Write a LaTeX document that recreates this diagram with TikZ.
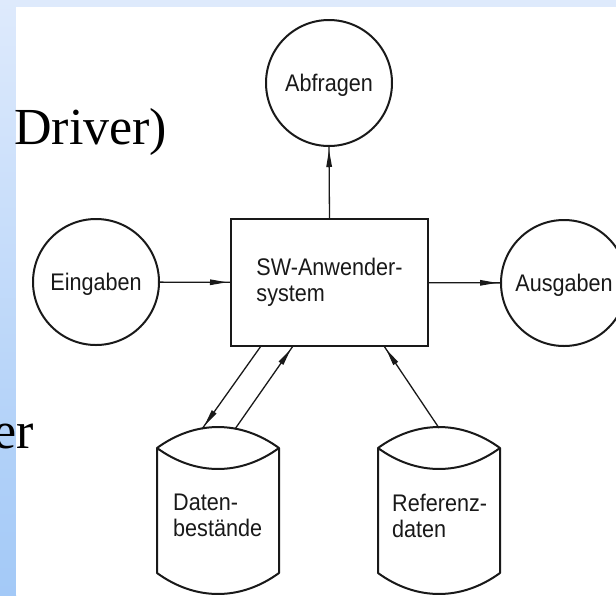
\documentclass[tikz,border=0pt]{standalone}
\usepackage{fontspec}
\setmainfont{Liberation Serif}
\newfontfamily\diagfont{Liberation Sans}[FakeStretch=0.9]
\usetikzlibrary{arrows.meta,decorations.markings,calc}
\definecolor{band}{RGB}{222,234,252}
\definecolor{stripbot}{RGB}{163,201,247}
\definecolor{ink}{RGB}{25,25,25}
\tikzset{
  diagtext/.style={font=\diagfont\fontsize{24}{26}\selectfont, text=ink},
  circ/.style={circle, draw=ink, line width=2pt, minimum size=126pt, inner sep=0pt, outer sep=0pt, diagtext, text depth=0pt},
  sysbox/.style={rectangle, draw=ink, line width=2.4pt, minimum width=197pt, minimum height=127pt, inner sep=0pt, outer sep=0pt, align=left, diagtext},
  drumbox/.style={rectangle, minimum width=122pt, minimum height=165pt, inner sep=0pt, outer sep=0pt},
  drumline/.style={draw=ink, line width=2pt, line join=round},
  drumtext/.style={diagtext, align=left, inner sep=0pt, anchor=north west},
  conn/.style={draw=ink, line width=1.3pt},
  tipend/.style={postaction={decorate}, decoration={markings, mark=at position -4pt with {\arrow{Stealth[length=17pt,width=5.5pt,inset=0pt]}}}},
  slidetext/.style={font=\fontsize{52}{60}\selectfont, text=black, inner sep=0pt}
}
\begin{document}
\begin{tikzpicture}[x=1pt,y=-1pt]
\useasboundingbox (0,0) rectangle (616,595);
\clip (0,0) rectangle (616,595);
% slide background
\fill[band] (0,0) rectangle (616,7);
\shade[top color=band, bottom color=stripbot] (0,0) rectangle (16,595);
\fill[white] (16,7) rectangle (616,595);
% slide text fragments
\node[slidetext, anchor=base west] (drv) at (14,144) {Driver)};
\node[slidetext, anchor=base east] (er) at (34,448) {er};
% nodes
\node[circ] (abf) at (329,83) {Abfragen};
\node[circ] (ein) at (96,282) {Eingaben};
\node[circ] (aus) at (564,283) {Ausgaben};
\node[sysbox] (sys) at (329.5,282.5) {SW-Anwender-\\system};
% drums
\node[drumbox] (dat) at (218,510.5) {};
\draw[drumline] ($(dat.north west)+(0,20)$) coordinate (dat-a) to[bend left=36] ($(dat.north east)+(0,20)$) coordinate (dat-b) to[bend left=36] (dat-a) -- ($(dat.south west)+(0,-20)$) to[bend right=36] ($(dat.south east)+(0,-20)$) -- (dat-b);
\node[drumtext] (dat-t) at ($(dat.north west)+(16,66)$) {Daten-\\bestände};
\node[drumbox] (ref) at (439,510.5) {};
\draw[drumline] ($(ref.north west)+(0,20)$) coordinate (ref-a) to[bend left=36] ($(ref.north east)+(0,20)$) coordinate (ref-b) to[bend left=36] (ref-a) -- ($(ref.south west)+(0,-20)$) to[bend right=36] ($(ref.south east)+(0,-20)$) -- (ref-b);
\node[drumtext] (ref-t) at ($(ref.north west)+(14,66)$) {Referenz-\\daten};
% connection points
\coordinate (s1) at ($(sys.south west)+(30,0)$);
\coordinate (s2) at ($(sys.south west)+(62,0)$);
\coordinate (s3) at ($(sys.south west)+(153,0)$);
\coordinate (d1) at ($(dat.north)+(-16,1)$);
\coordinate (d2) at ($(dat.north)+(17,1)$);
\coordinate (r1) at ($(ref.north)+(0,0)$);
% connectors
\draw[conn, tipend] (sys.north) -- (abf.south);
\draw[conn, tipend] (ein) -- (sys);
\draw[conn, tipend] (sys) -- (aus);
\draw[conn, tipend] (s1) -- (d1);
\draw[conn, tipend] (d2) -- (s2);
\draw[conn, tipend] (r1) -- (s3);
\end{tikzpicture}
\end{document}
